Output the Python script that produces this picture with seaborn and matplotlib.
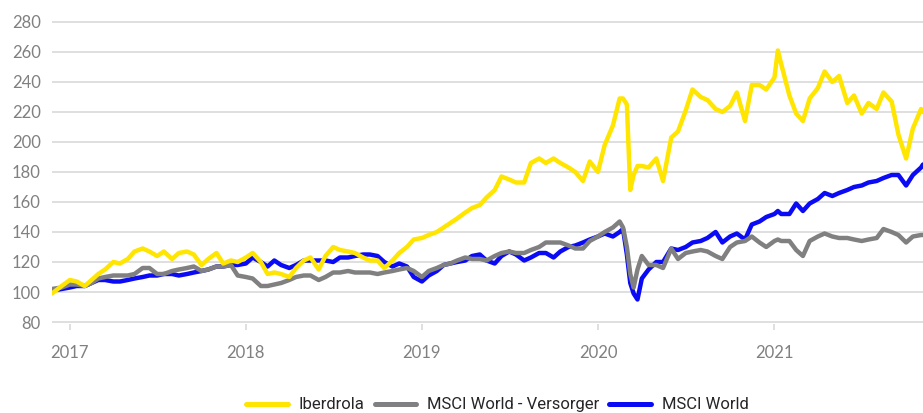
import matplotlib
matplotlib.use("Agg")
import matplotlib.pyplot as plt
import pandas as pd
import seaborn as sns

# --- data (indexed, start = 100) ---
dates = [
    "2016-11-25", "2016-12-15",
    "2017-01-01", "2017-01-15", "2017-02-01", "2017-02-15", "2017-03-01", "2017-03-15",
    "2017-04-01", "2017-04-15", "2017-05-01", "2017-05-15", "2017-06-01", "2017-06-15",
    "2017-07-01", "2017-07-15", "2017-08-01", "2017-08-15", "2017-09-01", "2017-09-15",
    "2017-10-01", "2017-10-15", "2017-11-01", "2017-11-15", "2017-12-01", "2017-12-15",
    "2018-01-01", "2018-01-15", "2018-02-01", "2018-02-15", "2018-03-01", "2018-03-15",
    "2018-04-01", "2018-04-15", "2018-05-01", "2018-05-15", "2018-06-01", "2018-06-15",
    "2018-07-01", "2018-07-15", "2018-08-01", "2018-08-15", "2018-09-01", "2018-09-15",
    "2018-10-01", "2018-10-15", "2018-11-01", "2018-11-15", "2018-12-01", "2018-12-15",
    "2019-01-01", "2019-01-15", "2019-02-01", "2019-02-15", "2019-03-01", "2019-03-15",
    "2019-04-01", "2019-04-15", "2019-05-01", "2019-05-15", "2019-06-01", "2019-06-15",
    "2019-07-01", "2019-07-15", "2019-08-01", "2019-08-15", "2019-09-01", "2019-09-15",
    "2019-10-01", "2019-10-15", "2019-11-01", "2019-11-15", "2019-12-01", "2019-12-15",
    "2020-01-01", "2020-01-15", "2020-02-01", "2020-02-15", "2020-02-22", "2020-03-01",
    "2020-03-08", "2020-03-15", "2020-03-23", "2020-04-01", "2020-04-15", "2020-05-01",
    "2020-05-15", "2020-06-01", "2020-06-15", "2020-07-01", "2020-07-15", "2020-08-01",
    "2020-08-15", "2020-09-01", "2020-09-15", "2020-10-01", "2020-10-15", "2020-11-01",
    "2020-11-15", "2020-12-01", "2020-12-15",
    "2021-01-01", "2021-01-08", "2021-01-15", "2021-02-01", "2021-02-15", "2021-03-01",
    "2021-03-15", "2021-04-01", "2021-04-15", "2021-05-01", "2021-05-15", "2021-06-01",
    "2021-06-15", "2021-07-01", "2021-07-15", "2021-08-01", "2021-08-15", "2021-09-01",
    "2021-09-15", "2021-10-01", "2021-10-15", "2021-11-01", "2021-11-05",
]

iberdrola = [
    99, 104,
    108, 107, 104, 108, 112, 115, 120, 119, 122, 127, 129, 127,
    124, 127, 122, 126, 127, 125, 118, 122, 126, 119, 121, 120,
    123, 126, 120, 112, 113, 112, 110, 116, 121, 123, 115, 124,
    130, 128, 127, 126, 123, 121, 121, 116, 121, 126, 130, 135,
    136, 138, 140, 143, 146, 149, 153, 156, 158, 163, 168, 177,
    175, 173, 173, 186, 189, 186, 189, 186, 183, 180, 174, 187,
    180, 198, 211, 229, 229, 225, 168, 178, 184, 184, 183, 189,
    174, 203, 207, 221, 235, 230, 228, 222, 220, 224, 233, 214,
    238, 238, 235,
    243, 261, 252, 231, 219, 214, 229, 236, 247, 240, 244, 226,
    231, 219, 226, 222, 233, 227, 205, 189, 209, 222, 220,
]

versorger = [
    102, 103,
    105, 105, 104, 106, 109, 110, 111, 111, 111, 112, 116, 116,
    112, 112, 114, 115, 116, 117, 114, 115, 117, 117, 118, 111,
    110, 109, 104, 104, 105, 106, 108, 110, 111, 111, 108, 110,
    113, 113, 114, 113, 113, 113, 112, 113, 114, 115, 116, 114,
    110, 114, 116, 118, 119, 121, 123, 122, 122, 121, 124, 126,
    127, 126, 126, 128, 130, 133, 133, 133, 131, 129, 129, 134,
    137, 140, 143, 147, 143, 130, 112, 103, 115, 124, 118, 118,
    116, 129, 122, 126, 127, 128, 127, 124, 122, 130, 133, 134,
    137, 133, 130,
    134, 135, 134, 134, 128, 124, 134, 137, 139, 137, 136, 136,
    135, 134, 135, 136, 142, 140, 138, 133, 137, 138, 138,
]

msci_world = [
    101, 102,
    103, 104, 104, 106, 108, 108, 107, 107, 108, 109, 110, 111,
    111, 112, 112, 111, 112, 113, 114, 115, 117, 117, 118, 118,
    119, 123, 120, 117, 121, 118, 116, 118, 121, 121, 121, 121,
    120, 123, 123, 124, 125, 125, 124, 120, 117, 119, 117, 110,
    107, 111, 114, 118, 119, 120, 121, 124, 125, 121, 119, 124,
    127, 125, 121, 123, 126, 126, 123, 127, 130, 131, 133, 135,
    137, 139, 137, 140, 142, 125, 106, 99, 95, 109, 115, 120,
    120, 129, 128, 130, 133, 134, 136, 140, 133, 137, 139, 135,
    145, 147, 150,
    152, 154, 152, 152, 159, 154, 159, 162, 166, 164, 166, 168,
    170, 171, 173, 174, 176, 178, 178, 171, 178, 183, 185,
]

series_names = ["Iberdrola", "MSCI World - Versorger", "MSCI World"]
year_ticks = ["2017-01-01", "2018-01-01", "2019-01-01", "2020-01-01", "2021-01-01"]
year_labels = ["2017", "2018", "2019", "2020", "2021"]
y_ticks = list(range(80, 281, 20))

colors = {"Iberdrola": "#FFE500", "MSCI World - Versorger": "#808080", "MSCI World": "#0A0AF5"}

df = pd.DataFrame({
    "Datum": pd.to_datetime(dates),
    "Iberdrola": iberdrola,
    "MSCI World - Versorger": versorger,
    "MSCI World": msci_world,
})
long_df = df.melt(id_vars="Datum", var_name="Serie", value_name="Wert")

sns.set_theme(style="white")
plt.rcParams["font.family"] = ["Lato", "DejaVu Sans"]

fig = plt.figure(figsize=(9.23, 4.13), dpi=100)
ax = fig.add_axes([52 / 923, 0.2167, 1 - 52 / 923, 0.7337])

# blue at the bottom, yellow on top
draw_order = ["MSCI World", "MSCI World - Versorger", "Iberdrola"]
sns.lineplot(data=long_df, x="Datum", y="Wert", hue="Serie", hue_order=draw_order,
             palette=colors, estimator=None, linewidth=3.2, legend=False, ax=ax)

ax.set_ylim(79, 281)
ax.set_yticks(y_ticks)
ax.set_xlim(df["Datum"].iloc[0], df["Datum"].iloc[-1])
ax.set_xticks(pd.to_datetime(year_ticks))
ax.set_xticklabels(year_labels)
ax.set_xlabel("")
ax.set_ylabel("")

ax.yaxis.grid(True, color="#D9D9D9", linewidth=1.2)
ax.xaxis.grid(False)
ax.set_axisbelow(True)
for s in ax.spines.values():
    s.set_visible(False)

ax.tick_params(axis="y", length=0, pad=8, labelsize=12, labelcolor="#808080")
ax.tick_params(axis="x", bottom=True, length=4.5, width=1.2, color="#D9D9D9",
               direction="out", pad=11, labelsize=12, labelcolor="#808080")

lines = {name: ln for name, ln in zip(draw_order, ax.lines)}
leg = fig.legend([lines[n] for n in series_names], series_names,
                 loc="center", bbox_to_anchor=(0.539, 0.0194), ncol=3, frameon=False,
                 handlelength=2.5, handletextpad=0.65, columnspacing=0.6,
                 prop={"family": ["Roboto", "DejaVu Sans"], "size": 12})
for h in leg.get_lines():
    h.set_linewidth(3.6)

fig.savefig("out.png", dpi=100)
